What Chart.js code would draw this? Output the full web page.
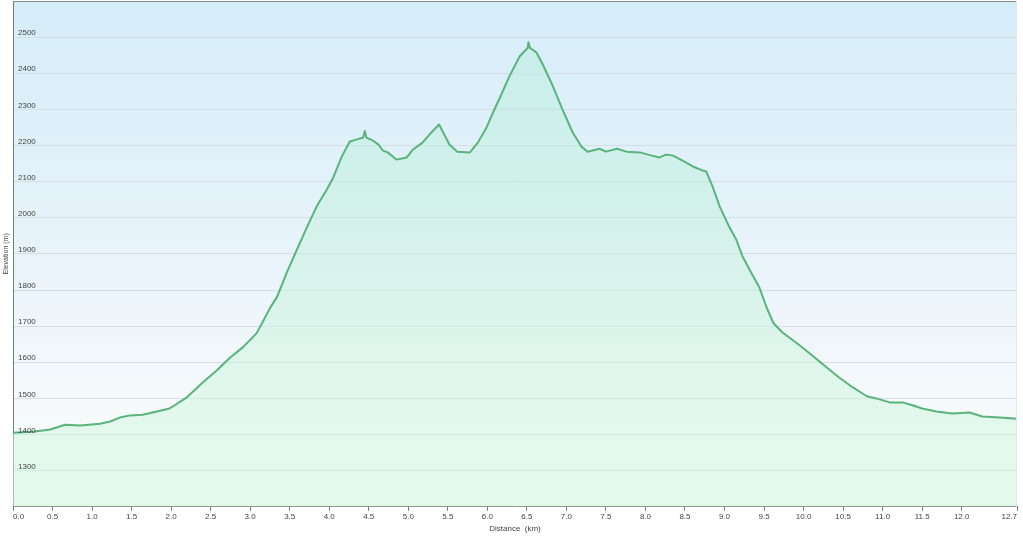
<!DOCTYPE html>
<html>
<head>
<meta charset="utf-8">
<script src="https://cdn.jsdelivr.net/npm/chart.js@4.4.1/dist/chart.umd.min.js"></script>
<style>
    html, body { margin: 0; padding: 0; background: #ffffff; }
    #wrap { width: 1023px; height: 536px; }
</style>
</head>
<body>
<div id="wrap"><canvas id="profileChart" width="1023" height="536"></canvas></div>
<script>
// Track data
const distanceKm = [
    0.00, 0.25, 0.47, 0.66, 0.85, 1.10, 1.23, 1.35, 1.48, 1.64,
    1.82, 1.98, 2.20, 2.40, 2.58, 2.74, 2.91, 3.08, 3.16, 3.25,
    3.34, 3.46, 3.59, 3.72, 3.84, 3.97, 4.05, 4.16, 4.26, 4.35,
    4.43, 4.45, 4.47, 4.55, 4.62, 4.68, 4.74, 4.85, 4.98, 5.06,
    5.18, 5.27, 5.39, 5.52, 5.62, 5.78, 5.88, 5.99, 6.09, 6.16,
    6.28, 6.41, 6.51, 6.52, 6.54, 6.62, 6.70, 6.83, 6.95, 7.08,
    7.19, 7.27, 7.42, 7.50, 7.64, 7.76, 7.93, 8.08, 8.18, 8.26,
    8.35, 8.47, 8.60, 8.72, 8.77, 8.85, 8.94, 9.06, 9.15, 9.23,
    9.34, 9.44, 9.53, 9.62, 9.73, 9.95, 10.11, 10.29, 10.45, 10.62,
    10.80, 10.92, 11.09, 11.25, 11.38, 11.50, 11.68, 11.88, 12.10, 12.26,
    12.48, 12.70
];
const elevationM = [
    1405, 1408, 1414, 1427, 1425, 1430, 1436, 1447, 1453, 1455,
    1464, 1472, 1503, 1544, 1578, 1612, 1642, 1680, 1712, 1750,
    1781, 1847, 1911, 1975, 2031, 2078, 2111, 2170, 2211, 2217,
    2222, 2240, 2222, 2214, 2203, 2186, 2181, 2161, 2167, 2189,
    2208, 2231, 2258, 2203, 2183, 2181, 2208, 2250, 2300, 2333,
    2392, 2447, 2470, 2486, 2470, 2458, 2425, 2364, 2300, 2236,
    2197, 2183, 2191, 2183, 2191, 2183, 2181, 2172, 2167, 2175,
    2172, 2158, 2142, 2131, 2128, 2086, 2031, 1975, 1939, 1892,
    1847, 1808, 1753, 1708, 1683, 1647, 1619, 1586, 1558, 1531,
    1506, 1500, 1489, 1489, 1481, 1472, 1464, 1458, 1461, 1450,
    1447, 1444
];

// Axis ticks
const xTicks = [0, 0.5, 1, 1.5, 2, 2.5, 3, 3.5, 4, 4.5, 5, 5.5, 6, 6.5, 7, 7.5,
                8, 8.5, 9, 9.5, 10, 10.5, 11, 11.5, 12, 12.7];
const yTicks = [1300, 1400, 1500, 1600, 1700, 1800, 1900, 2000, 2100, 2200, 2300, 2400, 2500];

const points = distanceKm.map((d, i) => ({ x: d, y: elevationM[i] }));

// Plot background + frame
const plotFrame = {
    id: 'plotFrame',
    beforeDraw(chart) {
        const { ctx, chartArea: a } = chart;
        const g = ctx.createLinearGradient(0, a.top, 0, a.bottom);
        g.addColorStop(0, '#d5edf9');
        g.addColorStop(0.55, '#eaf4fa');
        g.addColorStop(0.8, '#f6fafc');
        g.addColorStop(1, '#f1fbf4');
        ctx.save();
        ctx.fillStyle = g;
        ctx.fillRect(a.left, a.top, a.right - a.left, a.bottom - a.top);
        ctx.restore();
    },
    afterDraw(chart) {
        const { ctx, chartArea: a } = chart;
        ctx.save();
        ctx.strokeStyle = '#7d8c85';
        ctx.lineWidth = 1;
        ctx.beginPath();
        ctx.moveTo(a.left, a.top + 0.5);
        ctx.lineTo(a.right, a.top + 0.5);
        ctx.stroke();
        ctx.strokeStyle = '#dde6ea';
        ctx.beginPath();
        ctx.moveTo(a.right - 0.5, a.top);
        ctx.lineTo(a.right - 0.5, a.bottom);
        ctx.stroke();
        ctx.restore();
    }
};

const ctx = document.getElementById('profileChart').getContext('2d');
new Chart(ctx, {
    type: 'line',
    data: {
        datasets: [{
            label: 'Elevation',
            data: points,
            borderColor: '#5ab37b',
            borderWidth: 2,
            borderJoinStyle: 'round',
            pointRadius: 0,
            tension: 0,
            fill: 'start',
            backgroundColor: function(context) {
                const area = context.chart.chartArea;
                if (!area) return 'rgba(170,235,205,0.3)';
                const g = context.chart.ctx.createLinearGradient(0, area.top, 0, area.bottom);
                g.addColorStop(0, 'rgba(165,235,205,0.30)');
                g.addColorStop(1, 'rgba(215,248,225,0.55)');
                return g;
            }
        }]
    },
    options: {
        responsive: false,
        animation: false,
        layout: { padding: { top: 1, right: 6, left: 0, bottom: 0 } },
        plugins: {
            legend: { display: false },
            tooltip: { enabled: false }
        },
        scales: {
            x: {
                type: 'linear',
                min: 0,
                max: 12.7,
                afterBuildTicks: axis => { axis.ticks = xTicks.map(v => ({ value: v })); },
                afterFit: axis => { axis.paddingLeft = 0; axis.paddingRight = 0; },
                grid: { drawOnChartArea: false, tickLength: 4, color: '#6f7f78' },
                border: { display: true, color: '#6f7f78', width: 1 },
                ticks: {
                    autoSkip: false,
                    maxRotation: 0,
                    align: 'inner',
                    padding: 1,
                    color: '#444',
                    font: { family: 'Liberation Sans', size: 8 },
                    callback: v => Number(v).toFixed(1)
                },
                title: {
                    display: true,
                    text: 'Distance  (km)',
                    color: '#444',
                    font: { family: 'Liberation Sans', size: 8 },
                    padding: { top: 2, bottom: 2 }
                }
            },
            y: {
                type: 'linear',
                min: 1200,
                max: 2600,
                afterBuildTicks: axis => { axis.ticks = yTicks.map(v => ({ value: v })); },
                afterFit: axis => { axis.paddingTop = 0; axis.paddingBottom = 0; axis.width = 13; },
                grid: { drawTicks: false, color: '#d3dfe5', lineWidth: 1 },
                border: { display: true, color: '#6f7f78', width: 1 },
                ticks: {
                    z: 1,
                    mirror: true,
                    padding: 5,
                    labelOffset: -4,
                    color: '#444',
                    font: { family: 'Liberation Sans', size: 8 },
                    callback: v => String(v)
                },
                title: {
                    display: true,
                    text: 'Elevation (m)',
                    color: '#444',
                    font: { family: 'Liberation Sans', size: 7 },
                    padding: { top: 2, bottom: 2 }
                }
            }
        }
    },
    plugins: [plotFrame]
});
</script>
</body>
</html>
